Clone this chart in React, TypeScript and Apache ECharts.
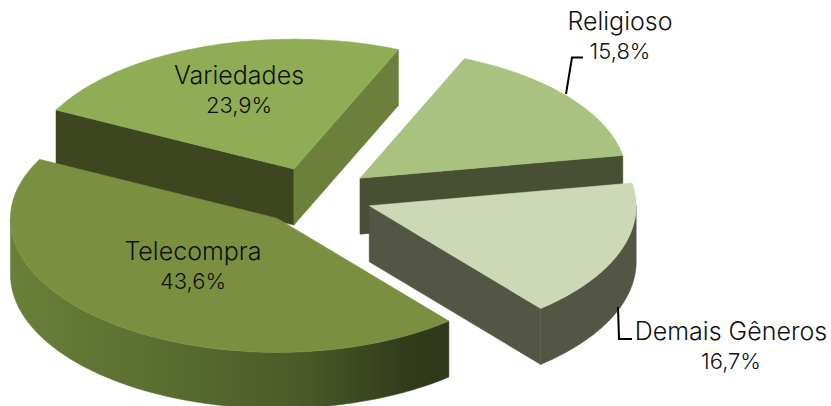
import React, { useEffect, useRef } from "react";
import * as echarts from "echarts";

const categories = ["Variedades", "Religioso", "Demais Gêneros", "Telecompra"];
const shares = [23.9, 15.8, 16.7, 43.6];

const topColors = ["#8FAD54", "#AAC280", "#CCD8B6", "#7A9040"];
const startWallColors = ["#3E4620", "#484F33", "#535644", "#5A6E30"];
const endWallColors = ["#6C803B", "#484F33", "#535644", "#5A6E30"];
const labelCenters = [
  [239, 90],
  [620, 36],
  [731, 346],
  [193, 266],
];
const leaderLines = [
  [[566, 94], [572, 57.5], [583, 57.5]],
  [[618, 307], [619, 339], [632, 339]],
];

const PIE = { cx: 314, cy: 196, a: 267, bBack: 130, bFront: 134, explode: 0.22, depth: 56, startDeg: -63 };
const FONT = "Inter";

function rimGradient(i: number) {
  if (i === 3) {
    return new echarts.graphic.LinearGradient(0, 0, 1, 0, [
      { offset: 0, color: "#6A8039" },
      { offset: 0.3, color: "#5C7031" },
      { offset: 0.65, color: "#4B5C28" },
      { offset: 0.9, color: "#323C1B" },
      { offset: 1, color: "#2F3819" },
    ]);
  }
  return endWallColors[i];
}

function renderSlice(params: any, api: any) {
  const i = params.dataIndex;
  const total = shares.reduce((s, v) => s + v, 0);
  const before = shares.slice(0, i).reduce((s, v) => s + v, 0);
  const startA = PIE.startDeg + (before / total) * 360;
  const endA = startA + (api.value(0) / total) * 360;
  const mid = ((startA + endA) / 2) * (Math.PI / 180);
  const ox = PIE.cx + PIE.explode * PIE.a * Math.sin(mid);
  const oy = PIE.cy - PIE.explode * PIE.bBack * Math.cos(mid);
  const at = (deg: number, dy = 0): number[] => {
    const r = (deg * Math.PI) / 180;
    const c = Math.cos(r);
    return [ox + PIE.a * Math.sin(r), oy - (c > 0 ? PIE.bBack : PIE.bFront) * c + dy];
  };
  const arc = (from: number, to: number, dy = 0) => {
    const pts: number[][] = [];
    const n = Math.max(2, Math.ceil(Math.abs(to - from)));
    for (let k = 0; k <= n; k++) pts.push(at(from + ((to - from) * k) / n, dy));
    return pts;
  };
  const children: any[] = [];
  const sinS = Math.sin((startA * Math.PI) / 180);
  const sinE = Math.sin((endA * Math.PI) / 180);
  const wall = (deg: number, fill: any) => {
    const p = at(deg);
    const q = at(deg, PIE.depth);
    children.push({
      type: "polygon",
      shape: { points: [[ox, oy], p, q, [ox, oy + PIE.depth]] },
      style: { fill, stroke: fill, lineWidth: 0.5 },
    });
  };
  if (sinS < 0) wall(startA, startWallColors[i]);
  if (sinE > 0) wall(endA, endWallColors[i]);
  const rimFrom = Math.max(startA, 90);
  const rimTo = Math.min(endA, 270);
  if (rimTo > rimFrom) {
    const fill = rimGradient(i);
    children.push({
      type: "polygon",
      shape: { points: [...arc(rimFrom, rimTo), ...arc(rimTo, rimFrom, PIE.depth)] },
      style: { fill, stroke: fill, lineWidth: 0.5 },
    });
  }
  children.push({
    type: "polygon",
    shape: { points: [[ox, oy], ...arc(startA, endA)] },
    style: { fill: topColors[i], stroke: topColors[i], lineWidth: 0.5 },
  });
  const pct = api.value(0).toFixed(1).replace(".", ",") + "%";
  const label = (text: string, dy: number, fontSize: number) => ({
    type: "text",
    z2: 20,
    style: {
      text,
      x: labelCenters[i][0],
      y: labelCenters[i][1] + dy,
      fill: "#111111",
      align: "center",
      verticalAlign: "middle",
      fontFamily: FONT,
      fontWeight: 300,
      fontSize,
    },
  });
  children.push(label(categories[i], -15, 25), label(pct, 14.5, 22));
  return { type: "group", children };
}

export default function App() {
  const ref = useRef<HTMLDivElement>(null);
  useEffect(() => {
    document.body.style.margin = "0";
    const chart = echarts.init(ref.current!, null, { renderer: "svg" });
    chart.setOption({
      animation: false,
      backgroundColor: "#FFFFFF",
      graphic: leaderLines.map((points) => ({
        type: "polyline",
        z: 10,
        shape: { points },
        style: { stroke: "#000000", lineWidth: 2, fill: "none" },
      })),
      series: [
        {
          type: "custom",
          coordinateSystem: "none",
          silent: true,
          clip: false,
          renderItem: renderSlice,
          data: shares.map((v, i) => ({ name: categories[i], value: [v] })),
        },
      ],
    });
    return () => chart.dispose();
  }, []);
  return <div ref={ref} style={{ position: "fixed", left: 0, top: 0, width: 831, height: 406 }} />;
}
